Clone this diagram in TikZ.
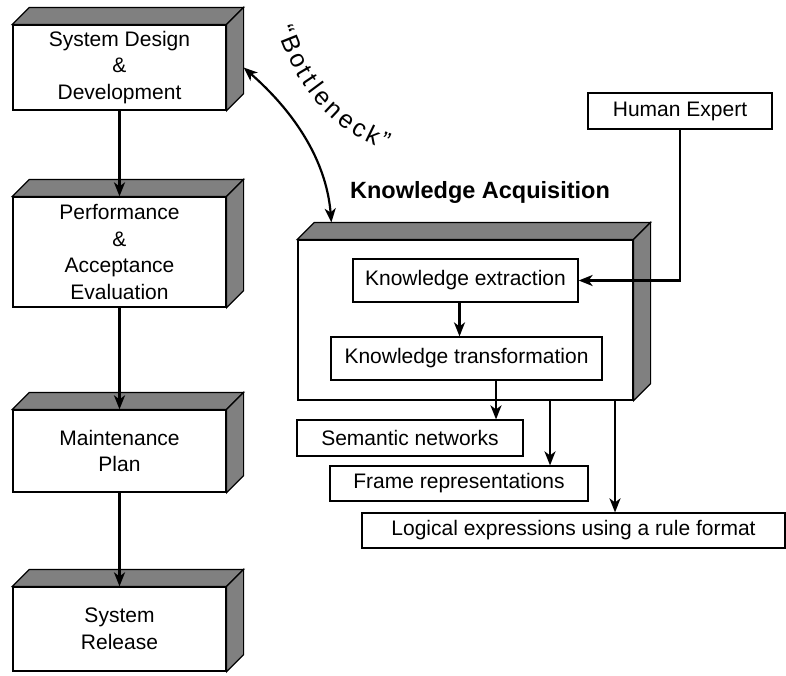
\documentclass[tikz,border=0pt]{standalone}
\usepackage{fontspec}
\setmainfont{Liberation Sans}
\usetikzlibrary{arrows.meta,decorations.text}

% shaded top and right faces of a block drawn as a raised slab
\newcommand\slabfaces[1]{%
  \draw[slab] (#1.north west) -- ++(17,-17) -- ([shift={(17,-17)}]#1.north east) -- (#1.north east) -- cycle;
  \draw[slab] (#1.north east) -- ++(17,-17) -- ([shift={(17,-17)}]#1.south east) -- (#1.south east) -- cycle;
}

\begin{document}
\begin{tikzpicture}[x=1pt,y=-1pt,
  every node/.style={font=\fontsize{21}{26.5}\selectfont},
  front/.style={draw, line width=1.2pt, fill=white, align=center, inner sep=0pt},
  slab/.style={draw, line width=1.2pt, fill=black!50},
  plain/.style={draw, line width=1.2pt, fill=white, inner sep=0pt},
  flow/.style={-{Stealth[length=14pt,width=11pt,inset=4pt]}, line width=2.2pt},
  twoway/.style={{Stealth[length=14pt,width=11pt,inset=4pt]}-{Stealth[length=14pt,width=11pt,inset=4pt]}, line width=2.2pt}]
\useasboundingbox (0,0) rectangle (786,675);

% life-cycle column
\node[front, minimum width=213pt, minimum height=85pt] (sd) at (119.5,67.5) {System Design\\\&\\Development};
\slabfaces{sd}
\node[front, minimum width=213pt, minimum height=110pt] (pe) at (119.5,252) {Performance\\\&\\Acceptance\\Evaluation};
\slabfaces{pe}
\node[front, minimum width=213pt, minimum height=82pt] (mp) at (119.5,451) {Maintenance\\Plan};
\slabfaces{mp}
\node[front, minimum width=213pt, minimum height=84pt] (sr) at (119.5,629) {System\\Release};
\slabfaces{sr}

\draw[flow] (sd.south) -- (pe.north);
\draw[flow] (pe.south) -- (mp.north);
\draw[flow] (mp.south) -- (sr.north);

% knowledge acquisition block
\node[font=\fontsize{23.5}{28}\selectfont\bfseries] (kat) at (480,192) {Knowledge Acquisition};
\node[front, minimum width=335pt, minimum height=160pt] (ka) at (465.5,320) {};
\slabfaces{ka}
\node[plain, minimum width=225pt, minimum height=43pt] (ext) at (465.5,280.5) {Knowledge extraction};
\node[plain, minimum width=271pt, minimum height=43pt] (tr) at (466.5,358.5) {Knowledge transformation};
\node[plain, minimum width=184pt, minimum height=36pt] (he) at (680,111) {Human Expert};

\draw[flow] ([xshift=-6pt]ext.south) -- ([xshift=-6pt]ext.south |- tr.north);
\draw[flow] (he.south) |- (ext.east);

% representation targets
\node[plain, minimum width=226pt, minimum height=36pt] (sn) at (410,438) {Semantic networks};
\node[plain, minimum width=258pt, minimum height=35pt] (fr) at (459,483.5) {Frame representations};
\node[plain, minimum width=423pt, minimum height=35pt] (le) at (573.5,530.5) {Logical expressions using a rule format};

\coordinate (csn) at (496,0);
\coordinate (cfr) at (550,0);
\coordinate (cle) at (615,0);
\draw[flow] (tr.south -| csn) -- (sn.north -| csn);
\draw[flow] (ka.south -| cfr) -- (fr.north -| cfr);
\draw[flow] (ka.south -| cle) -- (le.north -| cle);

% the bottleneck link
\coordinate (bnA) at ([xshift=17pt]sd.east);
\coordinate (bnB) at ([shift={(34,-17)}]ka.north west);
\draw[twoway] (bnA) .. controls (275,95) and (325,145) .. (bnB);
\path[decorate, decoration={text along path, text align={fit to path},
  text={|\fontsize{25}{30}\selectfont|“Bottleneck”}}]
  (277,28) .. controls (292,78) and (325,128) .. (386,150);
\end{tikzpicture}
\end{document}
